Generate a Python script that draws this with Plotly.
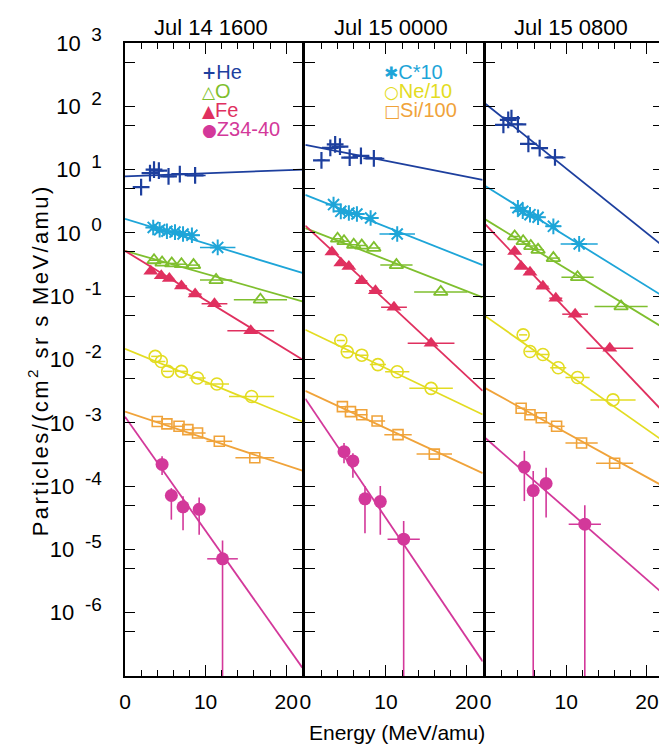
import plotly.graph_objects as go

# ---------------- data ----------------
PANEL_TITLES = ["Jul 14 1600", "Jul 15 0000", "Jul 15 0800"]
X_TICKS = [0, 10, 20]
X_TICK_LABELS = ["0", "10", "20"]
Y_DECADES = [-7, -6, -5, -4, -3, -2, -1, 0, 1, 2, 3]
Y_EXPONENT_LABELS = ["", "-6", "-5", "-4", "-3", "-2", "-1", "0", "1", "2", "3"]
FIT_E = [0, 22]

# He
he_E = [[2.0, 3.1, 3.6, 4.2, 5.4, 6.8, 8.7],
        [2.0, 3.1, 3.7, 4.3, 5.5, 6.9, 8.5],
        [2.2, 2.8, 3.2, 4.0, 5.3, 6.7, 8.6]]
he_F = [[5.3, 8.8, 10.0, 9.6, 7.8, 8.5, 8.1],
        [14, 22, 25, 23, 15.5, 16.5, 15],
        [51, 61, 65, 52, 25.4, 21.9, 15.6]]
he_dE = [[0.5, 0.5, 0.5, 0.6, 0.7, 1.0, 1.3]] * 3
he_fit = [[7.8, 10.0], [24.5, 6.9], [109, 0.62]]

# C*10
c_E = [[3.5, 4.3, 5.2, 6.2, 7.2, 8.3, 11.5],
       [3.5, 4.4, 5.4, 6.4, 8.1, 11.4],
       [4.0, 4.6, 5.5, 6.5, 8.4, 11.6]]
c_F = [[1.22, 1.12, 1.06, 1.03, 0.96, 0.92, 0.59],
       [2.8, 2.19, 2.06, 1.99, 1.72, 0.96],
       [2.5, 2.2, 1.94, 1.77, 1.27, 0.67]]
c_dE = [[0.5, 0.5, 0.6, 0.7, 0.8, 1.0, 2.2],
        [0.5, 0.5, 0.6, 0.7, 1.0, 2.2],
        [0.5, 0.5, 0.6, 0.7, 1.0, 2.3]]
c_fit = [[1.67, 0.233], [4.0, 0.31], [5.45, 0.1]]

# O
o_E = [[3.6, 4.6, 5.8, 7.0, 8.5, 11.3, 16.8],
       [4.0, 4.8, 6.0, 7.0, 8.5, 11.3, 16.8],
       [3.6, 4.65, 5.6, 6.5, 8.4, 11.4, 16.8]]
o_F = [[0.37, 0.34, 0.33, 0.32, 0.31, 0.18, 0.088],
       [0.81, 0.74, 0.65, 0.63, 0.58, 0.31, 0.117],
       [0.88, 0.74, 0.62, 0.54, 0.40, 0.2, 0.069]]
o_dE = [[0.5, 0.5, 0.6, 0.7, 0.8, 2.0, 3.3]] * 3
o_fit = [[0.52, 0.083], [1.19, 0.096], [1.62, 0.032]]

# Fe
fe_E = [[3.2, 4.5, 5.5, 7.0, 8.7, 11.1, 15.6],
        [3.3, 4.4, 5.4, 7.0, 8.7, 11.0, 15.6],
        [3.6, 4.4, 5.5, 7.1, 8.7, 11.1, 15.4]]
fe_F = [[0.247, 0.21, 0.19, 0.145, 0.108, 0.076, 0.0285],
        [0.50, 0.335, 0.295, 0.176, 0.122, 0.067, 0.018],
        [0.51, 0.295, 0.24, 0.143, 0.093, 0.052, 0.015]]
fe_dE = [[0.5, 0.5, 0.6, 0.7, 0.8, 1.6, 2.9]] * 3
fe_fit = [[0.52, 0.01], [1.3, 3.2e-3], [1.35, 1.5e-3]]

# Ne/10
ne_E = [[3.75, 4.5, 5.3, 7.0, 9.0, 11.4, 15.7],
        [4.4, 5.2, 7.0, 9.0, 11.4, 15.6],
        [4.65, 5.5, 7.1, 9.0, 11.4, 15.8]]
ne_F = [[0.0112, 0.0093, 0.0065, 0.0065, 0.0051, 0.0041, 0.0026],
        [0.020, 0.0132, 0.0117, 0.0083, 0.0064, 0.0035],
        [0.0245, 0.0134, 0.012, 0.0074, 0.0052, 0.0023]]
ne_dE = [[0.5, 0.5, 0.6, 0.8, 1.0, 1.5, 2.8],
         [0.5, 0.6, 0.8, 1.0, 1.5, 2.7],
         [0.5, 0.6, 0.8, 1.0, 1.5, 2.8]]
ne_fit = [[0.0148, 1.05e-3], [0.0295, 1.35e-3], [0.048, 5.2e-4]]

# Si/100
si_E = [[4.0, 5.2, 6.7, 7.8, 9.0, 11.7, 16.1],
        [4.6, 5.6, 7.0, 8.9, 11.5, 16.0],
        [4.4, 5.5, 6.9, 8.8, 11.9, 16.0]]
si_F = [[1.05e-3, 9.6e-4, 8.8e-4, 7.8e-4, 6.9e-4, 5.1e-4, 2.8e-4],
        [1.8e-3, 1.5e-3, 1.34e-3, 1.07e-3, 6.5e-4, 3.2e-4],
        [1.7e-3, 1.34e-3, 1.2e-3, 8.8e-4, 4.8e-4, 2.3e-4]]
si_dE = [[0.5, 0.6, 0.7, 0.8, 1.0, 1.6, 2.4],
         [0.5, 0.6, 0.7, 1.0, 1.7, 2.2],
         [0.5, 0.6, 0.7, 1.0, 2.0, 2.3]]
si_fit = [[1.5e-3, 1.75e-4], [3.2e-3, 1.6e-4], [3.5e-3, 1.0e-4]]

# Z34-40
z_E = [[4.6, 5.75, 7.2, 9.2, 12.1],
       [4.8, 5.9, 7.4, 9.3, 12.2],
       [4.8, 5.9, 7.5, 12.3]]
z_F = [[2.2e-4, 7.1e-5, 4.7e-5, 4.3e-5, 7.1e-6],
       [3.5e-4, 2.5e-4, 6.3e-5, 5.7e-5, 1.45e-5],
       [2.0e-4, 8.5e-5, 1.1e-4, 2.5e-5]]
z_hi = [[2.95e-4, 9.3e-5, 6.9e-5, 6.6e-5, 1.38e-5],
        [4.8e-4, 3.3e-4, 1.0e-4, 1.0e-4, 2.8e-5],
        [3.6e-4, 1.73e-4, 1.95e-4, 5.0e-5]]
z_lo = [[1.5e-4, 2.95e-5, 2.0e-5, 1.7e-5, 1e-9],
        [2.3e-4, 1.35e-4, 1.8e-5, 1.7e-5, 1e-9],
        [5.8e-5, 1e-9, 3.2e-5, 1e-9]]
z_dE = [[0.3, 0.3, 0.3, 0.6, 1.9],
        [0.3, 0.3, 0.3, 0.5, 2.0],
        [0.3, 0.3, 0.3, 2.0]]
z_fit = [[1.25e-3, 1.35e-7], [2.4e-3, 1.7e-7], [5.7e-4, 2.0e-6]]

# ---------------- styling ----------------
FONT = "Liberation Sans, Arial, Helvetica, sans-serif"
species = [
    # name, E, F, dE, fit, color, symbol, size, linewidth
    ("He", he_E, he_F, he_dE, he_fit, "#1d3f9e", "cross-thin", 12, 2.2),
    ("C*10", c_E, c_F, c_dE, c_fit, "#1ea5d8", "asterisk", 13, 2.0),
    ("O", o_E, o_F, o_dE, o_fit, "#7fbf2e", "triangle-up-open", 12, 1.8),
    ("Fe", fe_E, fe_F, fe_dE, fe_fit, "#e0305f", "triangle-up", 13, 0),
    ("Ne/10", ne_E, ne_F, ne_dE, ne_fit, "#e3dc22", "circle-open", 12, 1.6),
    ("Si/100", si_E, si_F, si_dE, si_fit, "#f0a33a", "square-open", 10, 1.6),
    ("Z34-40", z_E, z_F, z_dE, z_fit, "#d3389a", "circle", 13, 0),
]

fig = go.Figure()
for p in range(3):
    xa = "x" if p == 0 else f"x{p+1}"
    ya = "y" if p == 0 else f"y{p+1}"
    for name, E, F, dE, fit, col, sym, size, lw in species:
        fig.add_trace(go.Scatter(
            x=FIT_E, y=fit[p], mode="lines", xaxis=xa, yaxis=ya,
            line=dict(color=col, width=1.8), showlegend=False, hoverinfo="skip"))
        err_y = None
        if name == "Z34-40":
            err_y = dict(type="data", symmetric=False,
                         array=[h - v for h, v in zip(z_hi[p], F[p])],
                         arrayminus=[v - l for v, l in zip(F[p], z_lo[p])],
                         color=col, thickness=1.6, width=0)
        fig.add_trace(go.Scatter(
            x=E[p], y=F[p], mode="markers", xaxis=xa, yaxis=ya,
            marker=dict(symbol=sym, size=size, color=col,
                        line=dict(color=col, width=lw)),
            error_x=dict(type="data", array=dE[p], color=col, thickness=1.5, width=0),
            error_y=err_y, showlegend=False, name=name))

gap = 3 / 540
w = 178 / 540
domains = [[0, w], [w + gap, 2 * w + gap], [2 * w + 2 * gap, 1]]

axis_common = dict(showline=True, linecolor="black", linewidth=1.6, mirror="ticks",
                   ticks="inside", tickcolor="black", showgrid=False, zeroline=False)

y_ticktext = [("10<sup><span style='font-size:19px'>\u00a0\u00a0" + e + "</span></sup>") if e else ""
              for e in Y_EXPONENT_LABELS]

layout = dict(
    width=667, height=749, paper_bgcolor="white", plot_bgcolor="white",
    margin=dict(l=117, r=10, t=35, b=81), showlegend=False,
    font=dict(family=FONT, color="black"),
)
for p in range(3):
    xk = "xaxis" if p == 0 else f"xaxis{p+1}"
    yk = "yaxis" if p == 0 else f"yaxis{p+1}"
    layout[xk] = dict(axis_common, domain=domains[p], range=[0, 22],
                      anchor="y" if p == 0 else f"y{p+1}",
                      tickmode="array", tickvals=X_TICKS, ticktext=X_TICK_LABELS,
                      ticklen=11, tickwidth=1.4, tickfont=dict(size=21, family=FONT),
                      ticklabelstandoff=6,
                      minor=dict(tickmode="linear", tick0=0, dtick=2, ticklen=6,
                                 tickwidth=1.2, ticks="inside", tickcolor="black"))
    layout[yk] = dict(axis_common, type="log", range=[-7, 3],
                      anchor="x" if p == 0 else f"x{p+1}",
                      tickmode="array", tickvals=[10.0 ** d for d in Y_DECADES],
                      ticktext=y_ticktext if p == 0 else [""] * len(Y_DECADES),
                      showticklabels=(p == 0),
                      ticklen=10, tickwidth=1.4, tickfont=dict(size=22, family=FONT),
                      ticklabelstandoff=17,
                      minor=dict(tickmode="array",
                                 tickvals=[0.5 * 10.0 ** d for d in Y_DECADES],
                                 ticklen=10, tickwidth=1.2, ticks="inside",
                                 tickcolor="black"))
fig.update_layout(**layout)


def px_x(px):
    return (px - 117) / 540


def px_y(py):
    return (668 - py) / 633


ann = []
for p in range(3):
    cx = (domains[p][0] + domains[p][1]) / 2
    ann.append(dict(text=PANEL_TITLES[p], x=cx - 3 / 540, y=px_y(19), xref="paper", yref="paper",
                    showarrow=False, font=dict(size=22, family=FONT), xanchor="center",
                    yanchor="middle"))

legend1 = [("+", "He", "#1d3f9e", 64), ("\u25b3", "O", "#7fbf2e", 83),
           ("\u25b2", "Fe", "#e0305f", 102), ("\u25cf", "Z34-40", "#d3389a", 121)]
legend2 = [("\u2731", "C*10", "#1ea5d8", 64), ("\u25cb", "Ne/10", "#e3dc22", 83),
           ("\u25a1", "Si/100", "#f0a33a", 102)]
for entries, sx in ((legend1, 192), (legend2, 375)):
    for sym, txt, col, py in entries:
        ann.append(dict(
            text=("<span style='font-family:DejaVu Sans;font-size:17px;font-weight:bold'>" + sym +
                  "</span>" + txt),
            x=px_x(sx), y=px_y(py), xref="paper", yref="paper",
            showarrow=False, xanchor="left", yanchor="middle",
            font=dict(size=20, color=col, family=FONT)))

ann.append(dict(text="<span style='letter-spacing:2.4px'>Particles/(cm<sup>2</sup> sr s MeV/amu)</span>",
                x=px_x(30), y=px_y(352),
                xref="paper", yref="paper", showarrow=False, textangle=-90,
                xanchor="center", yanchor="middle", font=dict(size=22, family=FONT)))
ann.append(dict(text="Energy (MeV/amu)", x=px_x(390), y=px_y(724),
                xref="paper", yref="paper", showarrow=False,
                xanchor="center", yanchor="middle", font=dict(size=21, family=FONT)))
fig.update_layout(annotations=ann)

fig.write_html("out.html")
